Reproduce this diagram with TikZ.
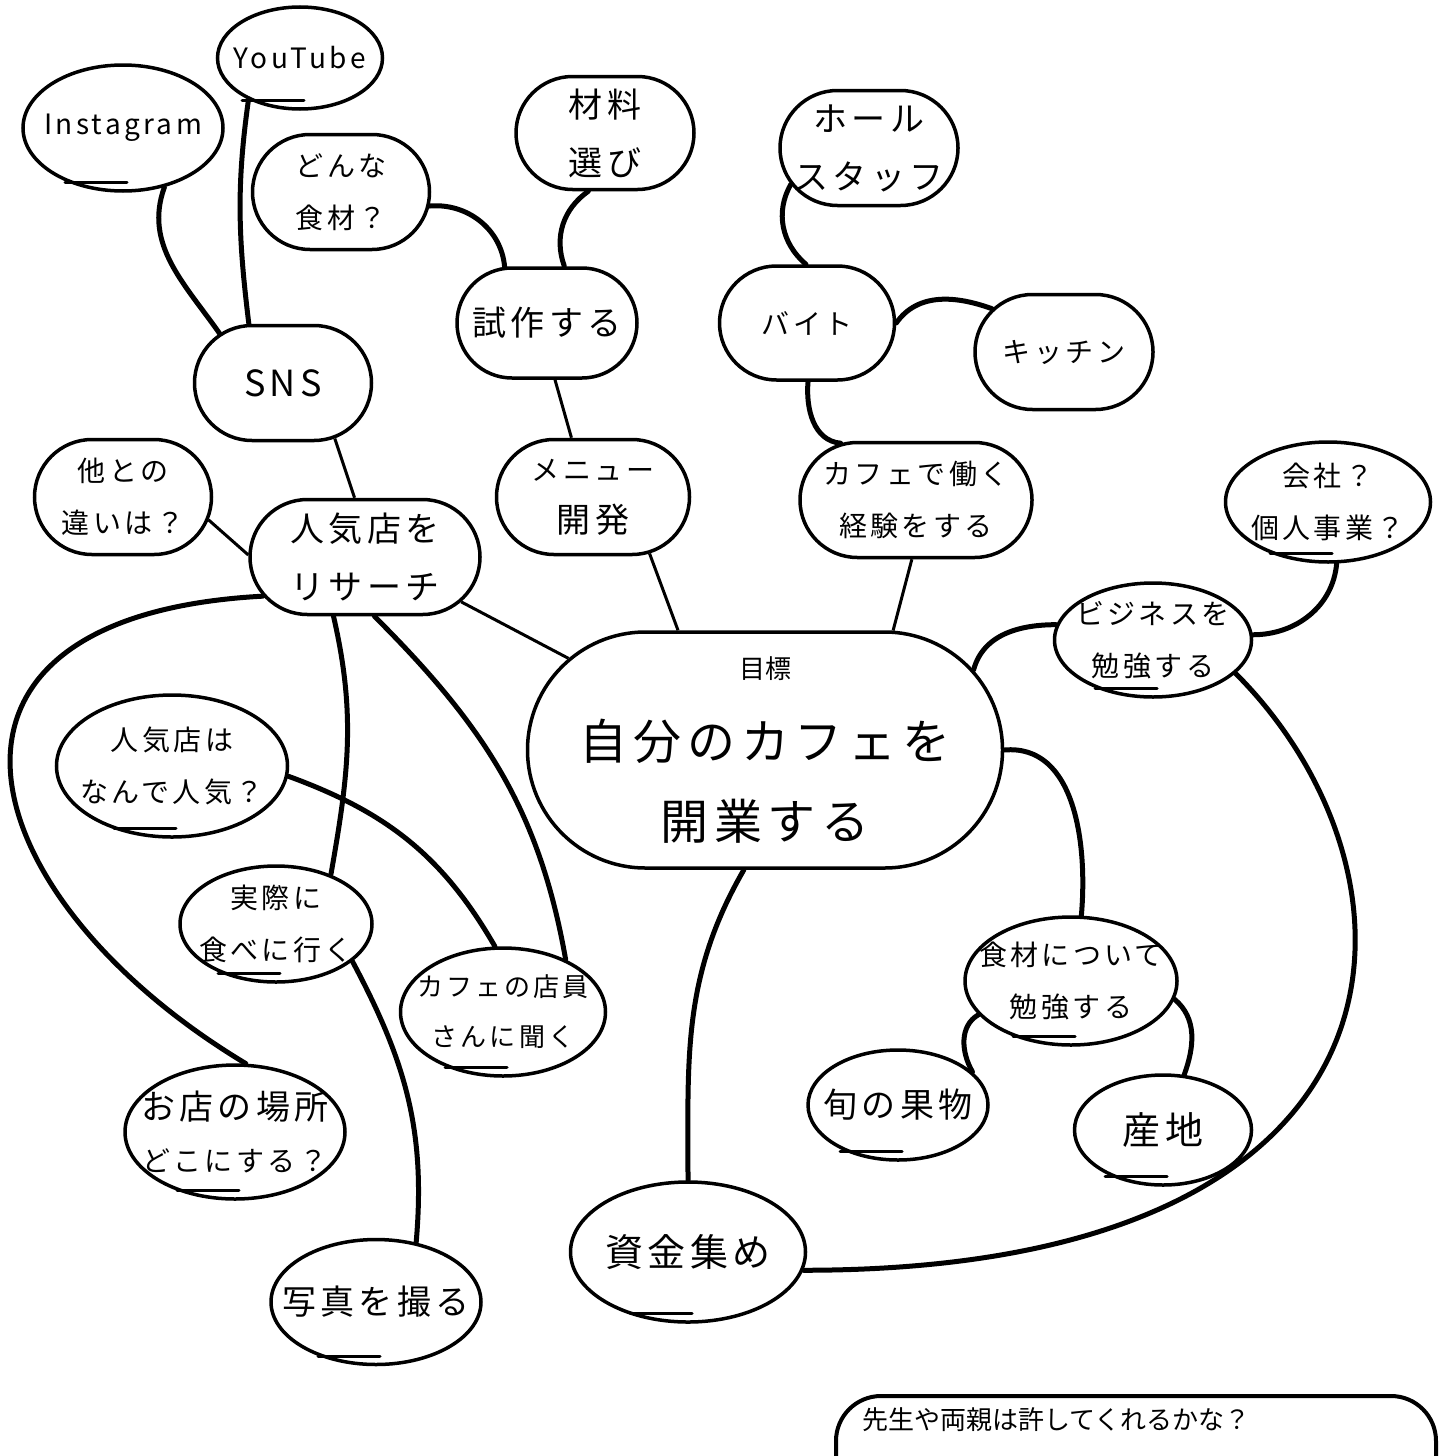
\documentclass[tikz,border=0pt]{standalone}
\usepackage{fontspec}
\setmainfont{Noto Sans CJK JP}
\newfontfamily\hand[LetterSpace=12]{Noto Sans CJK JP}
\newfontfamily\plainjp{Noto Sans CJK JP}
\usetikzlibrary{shapes.geometric,shapes.misc}

\newcommand\bigsz{\fontsize{34}{58}\selectfont}
\newcommand\cl[1]{\makebox[0pt]{#1}}

\tikzset{
  pill/.style={rounded rectangle, draw, line width=3.5pt, align=center,
    inner xsep=0pt, inner ysep=0pt, font={\hand\fontsize{28}{52}\selectfont}},
  bubble/.style={ellipse, draw, line width=3.5pt, align=center,
    inner xsep=-20pt, inner ysep=0pt, font={\hand\fontsize{28}{52}\selectfont}},
  sz/.style 2 args={minimum width=#1, minimum height=#2},
  smalltxt/.style={font={\hand\fontsize{26}{50}\selectfont}},
  bigtxt/.style={font={\hand\fontsize{34}{58}\selectfont}},
  hugetxt/.style={font={\hand\fontsize{38}{60}\selectfont}},
  latintxt/.style={font={\hand\fontsize{28}{40}\selectfont}},
  link/.style={line width=5pt, line cap=round},
  thinlink/.style={line width=3pt},
  tail/.style={line width=3pt, line cap=round}
}

\begin{document}
\begin{tikzpicture}[x=1pt,y=1pt]
\useasboundingbox (0,0) rectangle (1439,-1456);

% top left: SNS branch
\node[bubble, sz={200}{126}, latintxt] (insta) at (123,-128) {Instagram};
\node[bubble, sz={165}{102}, latintxt] (yt) at (300,-58) {YouTube};
\node[pill, sz={177}{115}, font={\hand\fontsize{36}{40}\selectfont}] (sns) at (283,-383) {\cl{SNS}};
\node[pill, sz={177}{115}] (tanotono) at (123,-497) {\cl{他との}\\\cl{違いは？}};
\node[pill, sz={230}{115}, bigtxt] (ninki) at (365,-557) {\cl{人気店を}\\\cl{リサーチ}};

% menu branch
\node[pill, sz={177}{115}] (donna) at (341,-192) {\cl{どんな}\\\cl{食材？}};
\node[pill, sz={178}{113}, bigtxt] (zairyo) at (605,-133) {\cl{材料}\\\cl{選び}};
\node[pill, sz={180}{110}, bigtxt] (shisaku) at (547,-323) {\cl{試作する}};
\node[pill, sz={193}{115}] (menu) at (593,-497) {\cl{メニュー}\\\cl{\bigsz 開発}};

% work branch
\node[pill, sz={178}{115}, bigtxt] (hall) at (869,-148) {\cl{ホール}\\\cl{スタッフ}};
\node[pill, sz={175}{114}] (baito) at (807,-323) {\cl{バイト}};
\node[pill, sz={178}{115}] (kitchen) at (1064,-352) {\cl{キッチン}};
\node[pill, sz={232}{115}] (cafework) at (916,-500) {\cl{カフェで働く}\\\cl{経験をする}};

% business branch
\node[bubble, sz={205}{120}] (kaisha) at (1328,-502) {会社？\\個人事業？};
\node[bubble, sz={197}{114}] (biz) at (1153,-640) {ビジネスを\\勉強する};

% goal
\node[pill, sz={475}{236}] (goal) at (765,-750)
  {\cl{\plainjp\fontsize{26}{30}\selectfont 目標}\\[29pt]
   \cl{\fontsize{48}{80}\selectfont 自分のカフェを}\\[28pt]
   \cl{\fontsize{48}{60}\selectfont 開業する}};

% research branch
\node[bubble, sz={231}{142}] (naze) at (172,-766) {人気店は\\なんで人気？};
\node[bubble, sz={192}{116}] (jissai) at (276,-924) {実際に\\食べに行く};
\node[bubble, sz={205}{128}, smalltxt] (tenin) at (503,-1012) {カフェの店員\\さんに聞く};
\node[bubble, sz={220}{134}] (omise) at (235,-1132) {{\bigsz お店の場所}\\どこにする？};
\node[bubble, sz={210}{125}, bigtxt] (shashin) at (376,-1302) {写真を撮る};

% money and food
\node[bubble, sz={235}{140}, hugetxt] (shikin) at (688,-1252) {資金集め};
\node[bubble, sz={212}{128}] (shokuzai) at (1071,-981) {食材について\\勉強する};
\node[bubble, sz={180}{110}, bigtxt] (shun) at (898,-1105) {旬の果物};
\node[bubble, sz={177}{110}, hugetxt] (sanchi) at (1163,-1130) {産地};

% bubble tails
\foreach \b in {insta,yt,kaisha,biz,naze,jissai,tenin,omise,shashin,shikin,shokuzai,shun,sanchi}
  \draw[tail] ([shift={(-58,10)}]\b.south) -- ([shift={(4,10)}]\b.south);

% connectors
\draw[link] (insta.-55) to[out=250,in=125] (sns.142);
\draw[link] (yt.219) to[out=262,in=97] (sns.120);
\draw[link] (donna.-9) to[out=5,in=95] (shisaku.127);
\draw[link] (zairyo.254) to[out=215,in=110] (shisaku.73);
\draw[link] (hall.205) to[out=240,in=140] (baito.91);
\draw[link] (baito.0) to[out=55,in=160] (kitchen.149);
\draw[link] (baito.271) to[out=265,in=175] (cafework.143);
\draw[thinlink] (sns.-47) -- (ninki.100);
\draw[thinlink] (shisaku.-82) -- (menu.110);
\draw[thinlink] (tanotono.-15) -- (ninki.179);
\draw[thinlink] (ninki.-25) -- (goal.155);
\draw[thinlink] (menu.-45) -- (goal.126);
\draw[thinlink] (cafework.266) -- (goal.43);
\draw[link] (goal.21) to[out=75,in=180] (biz.171);
\draw[link] (biz.3) to[out=0,in=265] (kaisha.278);
\draw[link] (biz.-22) .. controls +(202,-202) and +(635,0) .. (shikin.-9);
\draw[link] (goal.0) to[out=5,in=85] (shokuzai.81);
\draw[link] (shokuzai.200) to[out=210,in=120] (shun.24);
\draw[link] (shokuzai.-10) to[out=-40,in=70] (sanchi.69);
\draw[link] (goal.260) to[out=240,in=90] (shikin.90);
\draw[link] (ninki.201) .. controls +(-375,-20) and +(-275,165) .. (omise.81);
\draw[link] (ninki.242) to[out=283,in=80] (jissai.42);
\draw[link] (ninki.279) to[out=-45,in=100] (tenin.40);
\draw[link] (naze.-5) to[out=-20,in=120] (tenin.97);
\draw[link] (jissai.-26) to[out=-62,in=85] (shashin.56);

% note box, cut off at the bottom
\draw[line width=4pt, rounded corners=45pt] (836,-1560) rectangle (1436,-1396);
\node[anchor=west, inner sep=0pt, font={\plainjp\fontsize{26}{30}\selectfont}] (question) at (862,-1420) {先生や両親は許してくれるかな？};
\end{tikzpicture}
\end{document}
